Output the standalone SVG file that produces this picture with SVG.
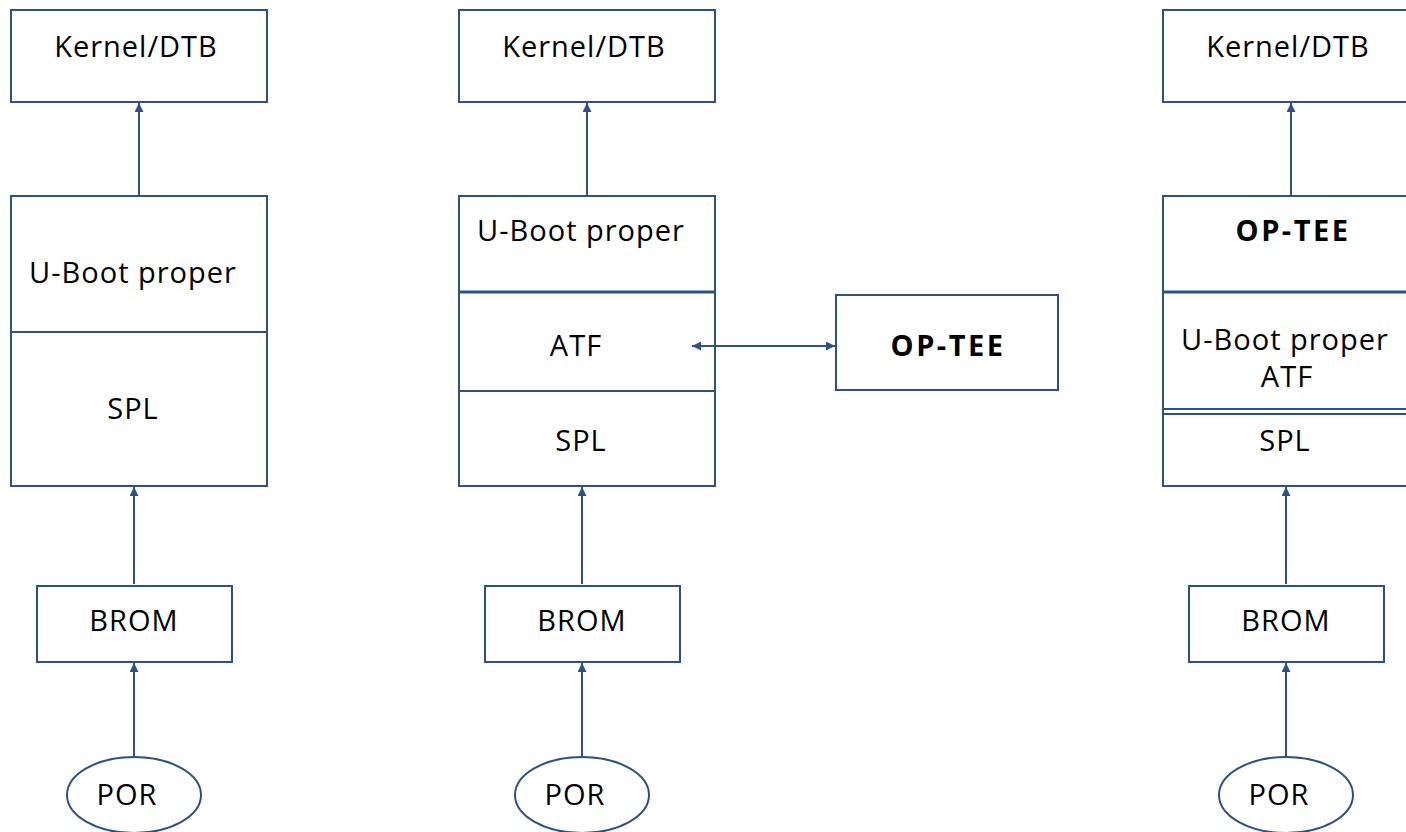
<svg xmlns="http://www.w3.org/2000/svg" width="1406" height="832" viewBox="0 0 1406 832">
<defs>
<marker id="ah" viewBox="0 0 10 10" refX="10" refY="5" markerWidth="11" markerHeight="9" markerUnits="userSpaceOnUse" orient="auto-start-reverse">
<path d="M0,0 L10,5 L0,10 z" fill="#2b5188"/>
</marker>
<style>
.b{fill:#fff;stroke:#2b5188;stroke-width:2}
.d{stroke:#2b5188;stroke-width:2;fill:none}
.dt{stroke:#2b5188;stroke-width:3;fill:none}
.t{font-family:"Open Sans","Liberation Sans",sans-serif;font-size:29px;letter-spacing:1px;fill:#000;text-anchor:middle}
.bo{font-weight:bold;letter-spacing:2.5px}
.c{stroke:#2b5188;stroke-width:2;fill:none;marker-end:url(#ah)}
</style>
</defs>
<g id="k1"><rect class="b" x="11" y="10" width="256" height="92"/><text class="t" x="136" y="57">Kernel/DTB</text></g>
<g id="us1"><rect class="b" x="11" y="196" width="256" height="290"/><line class="d" x1="11" y1="332" x2="267" y2="332"/><text class="t" x="133" y="283">U-Boot proper</text><text class="t" x="133" y="419">SPL</text></g>
<g id="brom1"><rect class="b" x="37" y="586" width="195" height="76"/><text class="t" x="134" y="631">BROM</text></g>
<g id="por1"><ellipse class="b" cx="134" cy="795" rx="67" ry="38"/><text class="t" x="127" y="805">POR</text></g>

<g id="k2"><rect class="b" x="459" y="10" width="256" height="92"/><text class="t" x="584" y="57">Kernel/DTB</text></g>
<g id="stack2"><rect class="b" x="459" y="196" width="256" height="290"/><line class="dt" x1="459" y1="292" x2="715" y2="292"/><line class="d" x1="459" y1="391" x2="715" y2="391"/><text class="t" x="581" y="241">U-Boot proper</text><text class="t" x="576" y="356">ATF</text><text class="t" x="581" y="451">SPL</text></g>
<g id="brom2"><rect class="b" x="485" y="586" width="195" height="76"/><text class="t" x="582" y="631">BROM</text></g>
<g id="por2"><ellipse class="b" cx="582" cy="795" rx="67" ry="38"/><text class="t" x="575" y="805">POR</text></g>
<g id="optee2"><rect class="b" x="836" y="295" width="222" height="95"/><text class="t bo" x="948" y="356">OP-TEE</text></g>

<g id="k3"><rect class="b" x="1163" y="10" width="258" height="92"/><text class="t" x="1288" y="57">Kernel/DTB</text></g>
<g id="stack3"><rect class="b" x="1163" y="196" width="258" height="290"/><line class="dt" x1="1163" y1="292" x2="1421" y2="292"/><line class="d" x1="1163" y1="409" x2="1421" y2="409"/><line class="d" x1="1163" y1="414" x2="1421" y2="414"/><text class="t bo" x="1293" y="241">OP-TEE</text><text class="t" x="1285" y="350">U-Boot proper</text><text class="t" x="1287" y="387">ATF</text><text class="t" x="1285" y="451">SPL</text></g>
<g id="brom3"><rect class="b" x="1189" y="586" width="195" height="76"/><text class="t" x="1286" y="631">BROM</text></g>
<g id="por3"><ellipse class="b" cx="1286" cy="795" rx="67" ry="38"/><text class="t" x="1279" y="805">POR</text></g>

<g id="connectors">
<line class="c" x1="134" y1="757" x2="134" y2="663"/>
<line class="c" x1="134" y1="584" x2="134" y2="487"/>
<line class="c" x1="139" y1="195" x2="139" y2="103"/>
<line class="c" x1="582" y1="757" x2="582" y2="663"/>
<line class="c" x1="582" y1="584" x2="582" y2="487"/>
<line class="c" x1="587" y1="195" x2="587" y2="103"/>
<line class="c" x1="1286" y1="757" x2="1286" y2="663"/>
<line class="c" x1="1286" y1="584" x2="1286" y2="487"/>
<line class="c" x1="1291" y1="195" x2="1291" y2="103"/>
<line class="c" x1="692" y1="346" x2="835" y2="346" style="marker-start:url(#ah)"/>
</g>
</svg>
